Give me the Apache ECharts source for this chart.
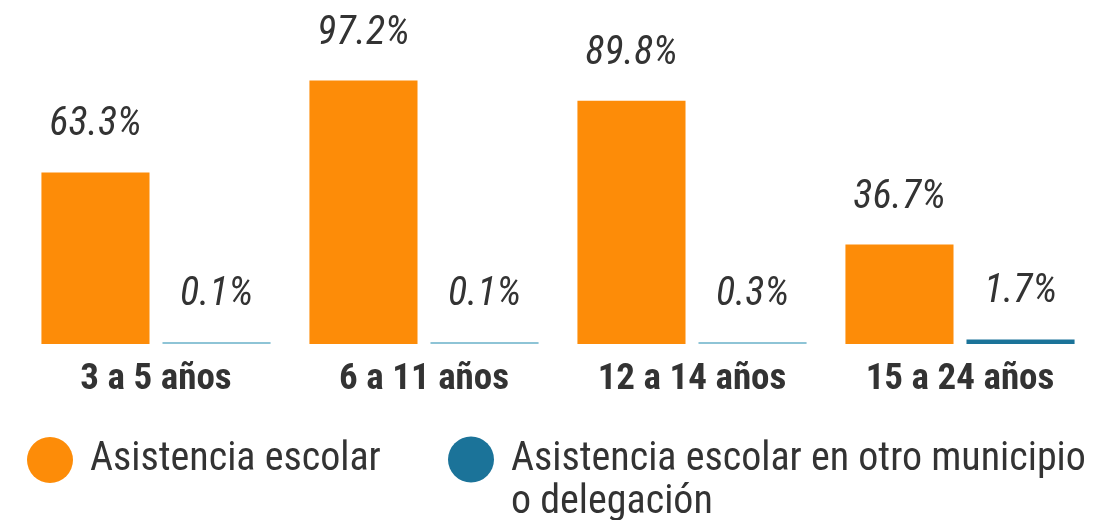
<!DOCTYPE html>
<html>
<head>
<meta charset="utf-8">
<script src="https://cdn.jsdelivr.net/npm/echarts@6/dist/echarts.min.js"></script>
<style>
  html, body { margin: 0; padding: 0; background: #fff; }
  #chart { width: 1099px; height: 520px; }
</style>
</head>
<body>
<div id="chart"></div>
<script>
const categories = ['3 a 5 años', '6 a 11 años', '12 a 14 años', '15 a 24 años']
const asistencia = [63.3, 97.2, 89.8, 36.7]
const otroMunicipio = [0.1, 0.1, 0.3, 1.7]
const seriesNames = ['Asistencia escolar', 'Asistencia escolar en otro municipio o delegación']

const FONT = '"Liberation Sans Narrow", "Roboto Condensed", Roboto, sans-serif'
const ORANGE = '#fd8c08'
const BLUE = '#1b7399'

const chart = echarts.init(document.getElementById('chart'))

const valueLabel = {
  show: true,
  position: 'top',
  distance: 27,
  fontFamily: FONT,
  fontStyle: 'italic',
  fontSize: 40,
  color: '#333',
  formatter: p => p.value.toFixed(1) + '%'
}

const legendBase = {
  icon: 'circle',
  itemWidth: 46,
  itemHeight: 46,
  textStyle: {
    fontFamily: FONT,
    fontSize: 40,
    lineHeight: 43,
    color: '#333',
    padding: [0, 0, 0, 12]
  }
}

chart.setOption({
  animation: false,
  grid: { left: 22, right: 5, top: 73, bottom: 176 },
  xAxis: {
    type: 'category',
    data: categories,
    axisLine: { show: false },
    axisTick: { show: false },
    axisLabel: {
      interval: 0,
      margin: 17,
      fontFamily: FONT,
      fontWeight: 'bold',
      fontSize: 37,
      color: '#333'
    }
  },
  yAxis: {
    type: 'value',
    min: 0,
    max: 100,
    show: false,
    splitLine: { show: false }
  },
  legend: [
    {
      ...legendBase,
      left: 22,
      top: 432,
      data: [{ name: seriesNames[0], itemStyle: { color: ORANGE } }]
    },
    {
      ...legendBase,
      left: 443,
      top: 390,
      data: [{ name: seriesNames[1], itemStyle: { color: BLUE } }],
      // wrap the long name; the leading empty line keeps the first line level with the dot
      formatter: name => '\n' + name.replace(' o delegación', '\no delegación')
    }
  ],
  series: [
    {
      name: seriesNames[0],
      type: 'bar',
      data: asistencia,
      barGap: '12%',
      barCategoryGap: '14.5%',
      itemStyle: { color: ORANGE },
      label: valueLabel
    },
    {
      name: seriesNames[1],
      type: 'bar',
      data: otroMunicipio,
      barMinHeight: 2,
      itemStyle: {
        color: p => (p.value < 1 ? '#8ec4d6' : BLUE)
      },
      label: valueLabel
    }
  ]
})

window.addEventListener('resize', () => chart.resize())
</script>
</body>
</html>
